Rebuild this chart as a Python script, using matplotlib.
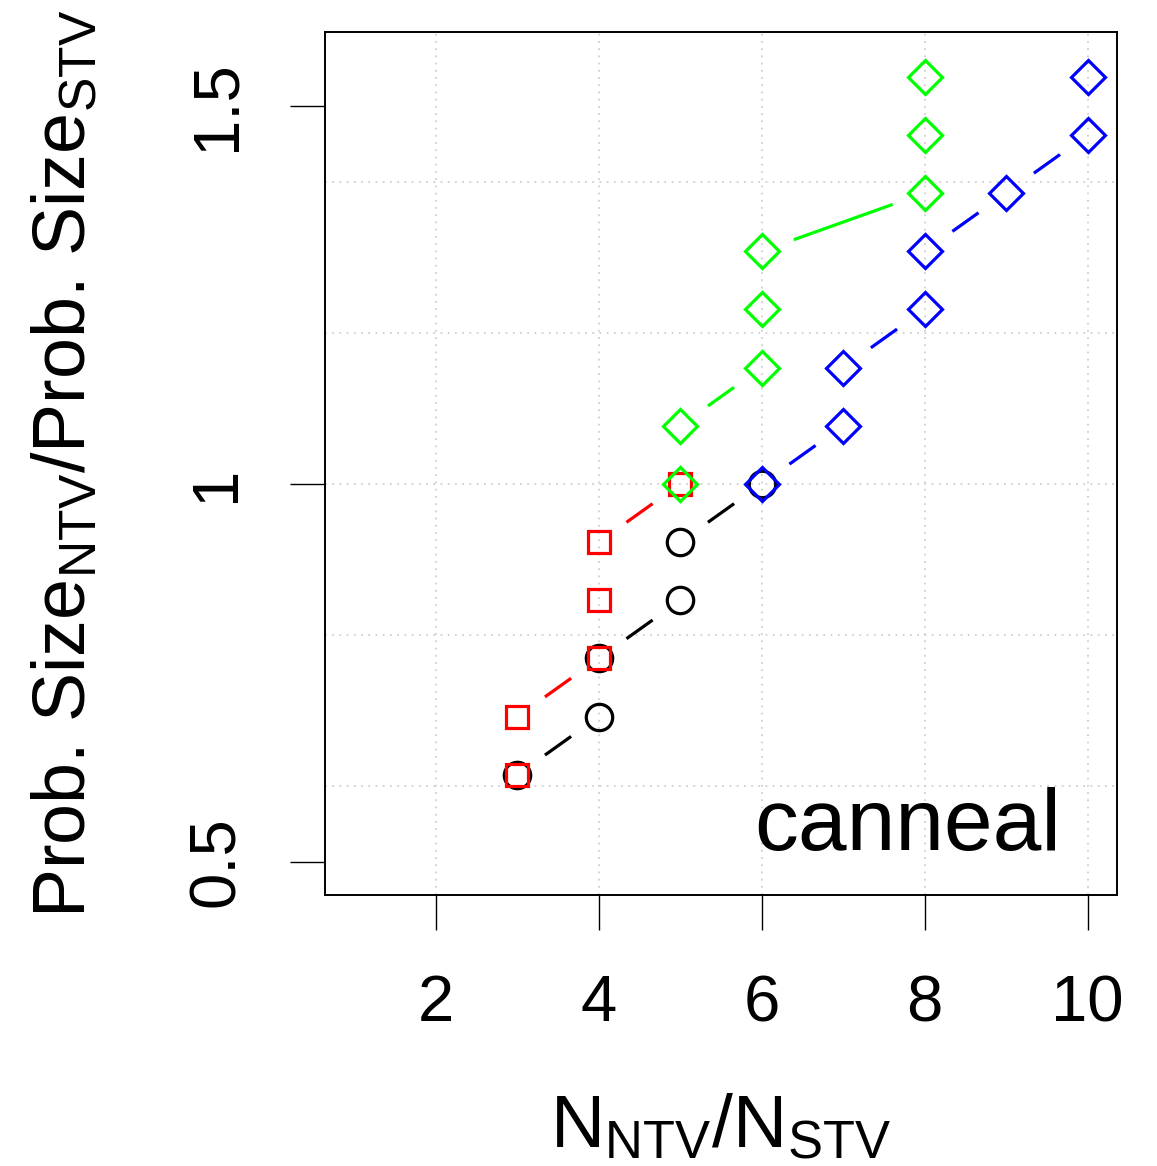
import matplotlib
matplotlib.use("Agg")
import matplotlib.pyplot as plt
import numpy as np

plt.rcParams['font.family'] = ['Liberation Sans', 'DejaVu Sans']
plt.rcParams['mathtext.fontset'] = 'custom'
plt.rcParams['mathtext.rm'] = 'Liberation Sans'
plt.rcParams['mathtext.it'] = 'Liberation Sans:italic'
plt.rcParams['mathtext.bf'] = 'Liberation Sans:bold'

# ---- data ----
black_x = [3, 4, 4, 5, 5, 6]
black_y = [0.615, 0.692, 0.769, 0.846, 0.923, 1.0]
red_x = [3, 3, 4, 4, 4, 5]
red_y = [0.615, 0.692, 0.769, 0.846, 0.923, 1.0]
green_x = [5, 5, 6, 6, 6, 8, 8, 8]
green_y = [1.0, 1.077, 1.154, 1.231, 1.308, 1.385, 1.462, 1.538]
blue_x = [6, 7, 7, 8, 8, 9, 10, 10]
blue_y = [1.0, 1.077, 1.154, 1.231, 1.308, 1.385, 1.462, 1.538]

x_ticks = [2, 4, 6, 8, 10]
x_tick_labels = ['2', '4', '6', '8', '10']
y_ticks = [0.5, 1.0, 1.5]
y_tick_labels = ['0.5', '1', '1.5']
x_grid = [2, 4, 6, 8, 10]
y_grid = [0.6, 0.8, 1.0, 1.2, 1.4]
panel_name = 'canneal'

W, H = 1157, 1166
fig = plt.figure(figsize=(W / 100, H / 100), dpi=100)
L, R, T, B = 325, 1117, 32, 895
ax = fig.add_axes([L / W, 1 - B / H, (R - L) / W, (B - T) / H])
ax.set_xlim(0.64, 10.36)
ax.set_ylim(0.456, 1.598)

# dotted background grid
for gx in x_grid:
    ax.axvline(gx, color='#cfcfcf', lw=1.3, ls=(0, (1, 3)), zorder=0)
for gy in y_grid:
    ax.axhline(gy, color='#cfcfcf', lw=1.3, ls=(0, (1, 3)), zorder=0)


def gapped_segments(xs, ys, gap_px):
    """Segments between consecutive points, trimmed around each marker."""
    pts = ax.transData.transform(np.column_stack([xs, ys]))
    inv = ax.transData.inverted()
    out = []
    for p0, p1 in zip(pts[:-1], pts[1:]):
        d = p1 - p0
        length = np.hypot(*d)
        if length <= 2 * gap_px:
            continue
        u = d / length
        out.append(inv.transform(np.array([p0 + u * gap_px, p1 - u * gap_px])))
    return out


series = [
    (black_x, black_y, 'black', 'o', 19),
    (red_x, red_y, '#ff0000', 's', 16.5),
    (green_x, green_y, '#00ff00', 'D', 17),
    (blue_x, blue_y, '#0000ff', 'D', 17),
]
for z, (xs, ys, col, mk, ms) in enumerate(series):
    for seg in gapped_segments(xs, ys, 34):
        ax.plot(seg[:, 0], seg[:, 1], color=col, lw=2.3,
                solid_capstyle='butt', zorder=2 + z)
    ax.plot(xs, ys, ls='none', marker=mk, ms=ms, mfc='none', mec=col,
            mew=2.3, zorder=2 + z)

for sp in ax.spines.values():
    sp.set_linewidth(1.4)

ax.set_xticks(x_ticks)
ax.set_xticklabels(x_tick_labels, fontsize=47)
ax.set_yticks(y_ticks)
ax.set_yticklabels(y_tick_labels, fontsize=47, rotation=90, va='center')
ax.tick_params(axis='x', direction='out', length=25, width=1.0, pad=32)
ax.tick_params(axis='y', direction='out', length=25, width=1.0, pad=31)

ax.text(0.93, 0.052, panel_name, transform=ax.transAxes, ha='right',
        va='baseline', fontsize=63)

fig.text((L + R) / 2 / W, 1 - 1147 / H,
         r'N$_{\mathrm{NTV}}$/N$_{\mathrm{STV}}$',
         ha='center', va='baseline', fontsize=54)
fig.text(100 / W, 1 - (T + B) / 2 / H,
         r'Prob. Size$_{\mathrm{NTV}}$/Prob. Size$_{\mathrm{STV}}$',
         ha='right', va='center', rotation=90, fontsize=53)

fig.savefig('out.png', dpi=100)
